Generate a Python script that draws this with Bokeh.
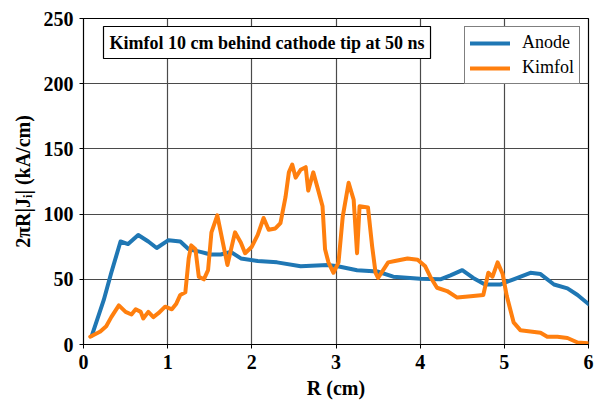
from bokeh.plotting import figure
from bokeh.models import Label, Legend, LegendItem, FixedTicker, Range1d
from bokeh.embed import file_html
from bokeh.resources import INLINE

anode_r = [0.1, 0.24, 0.33, 0.44, 0.53, 0.65, 0.77, 0.87, 1.01, 1.15, 1.25, 1.39, 1.51,
           1.63, 1.75, 1.87, 2.07, 2.3, 2.58, 2.9, 3.02, 3.25, 3.49, 3.68, 4.0, 4.24,
           4.36, 4.5, 4.63, 4.77, 4.95, 5.11, 5.31, 5.43, 5.59, 5.75, 5.87, 6.0]
anode_j = [7, 34, 55, 79, 77, 84, 79, 74, 80, 79, 73, 71, 69,
           69, 71, 66, 64, 63, 60, 61, 60, 57, 56, 52, 50.5, 50,
           53, 57, 51, 46, 46, 50, 55, 54, 46, 43, 38, 31]

kimfol_r = [0.08, 0.2, 0.27, 0.33, 0.42, 0.5, 0.57, 0.62, 0.68, 0.71, 0.77, 0.83, 0.89,
            0.97, 1.05, 1.1, 1.15, 1.21, 1.25, 1.28, 1.33, 1.37, 1.43, 1.48, 1.52, 1.59,
            1.71, 1.8, 1.87, 1.92, 2.0, 2.07, 2.14, 2.2, 2.28, 2.34, 2.4, 2.44, 2.48,
            2.52, 2.58, 2.64, 2.67, 2.73, 2.79, 2.84, 2.87, 2.91, 2.97, 3.03, 3.08, 3.15,
            3.21, 3.25, 3.28, 3.38, 3.43, 3.47, 3.5, 3.56, 3.62, 3.7, 3.85, 3.97, 4.06,
            4.12, 4.2, 4.32, 4.44, 4.6, 4.75, 4.81, 4.86, 4.92, 4.98, 5.03, 5.11, 5.19,
            5.31, 5.43, 5.51, 5.63, 5.75, 5.87, 5.99]
kimfol_j = [6, 10, 14, 21, 30, 25, 23, 27, 25, 20, 25, 21, 24,
            29, 27, 31, 38, 40, 66, 76, 73, 52, 50, 57, 86, 99,
            61, 86, 78, 70, 75, 84, 97, 88, 89, 93, 113, 132, 138,
            128, 134, 136, 118, 132, 118, 106, 73, 63, 55, 63, 98, 124,
            111, 70, 106, 105, 75, 55, 51, 57, 63, 64, 66, 65, 60,
            52, 43.5, 41, 36, 37, 38, 55, 52, 63, 54, 37, 17, 11,
            10, 9, 6, 6, 5, 1.5, 1]

x_ticks = [0, 1, 2, 3, 4, 5, 6]
y_ticks = [0, 50, 100, 150, 200, 250]

title_text = "Kimfol 10 cm behind cathode tip at 50 ns"
x_label = "R (cm)"
y_label = "2πR|Jᵢ| (kA/cm)"

FONT = "Liberation Serif"

p = figure(width=597, height=401, output_backend="svg", toolbar_location=None,
           x_range=Range1d(0, 6), y_range=Range1d(0, 250),
           min_border_left=83, min_border_right=9, min_border_top=18, min_border_bottom=56)

p.outline_line_color = "black"
p.outline_line_width = 1.2

for ax in (p.xaxis, p.yaxis):
    ax.major_label_text_font = FONT
    ax.major_label_text_font_style = "bold"
    ax.major_label_text_font_size = "20px"
    ax.major_label_text_color = "black"
    ax.axis_label_text_font = FONT
    ax.axis_label_text_font_style = "bold"
    ax.axis_label_text_font_size = "20px"
    ax.axis_label_text_color = "black"
    ax.axis_line_color = "black"
    ax.major_tick_line_color = "black"
    ax.major_tick_out = 4
    ax.major_tick_in = 0
    ax.minor_tick_line_color = None

p.xaxis.ticker = FixedTicker(ticks=x_ticks)
p.yaxis.ticker = FixedTicker(ticks=y_ticks)
p.xaxis.axis_label = x_label
p.yaxis.axis_label = y_label
p.xaxis.major_label_standoff = 6
p.yaxis.major_label_standoff = 6
p.xaxis.axis_label_standoff = 5
p.yaxis.axis_label_standoff = 7

p.xgrid.ticker = FixedTicker(ticks=x_ticks)
p.ygrid.ticker = FixedTicker(ticks=y_ticks)
for g in (p.xgrid, p.ygrid):
    g.grid_line_color = "#4a4a4a"
    g.grid_line_width = 1.2

r1 = p.line(anode_r, anode_j, line_color="#1f77b4", line_width=4, line_join="round", line_cap="round")
r2 = p.line(kimfol_r, kimfol_j, line_color="#ff7f0e", line_width=4, line_join="round", line_cap="round")

legend = Legend(items=[LegendItem(label="Anode", renderers=[r1]),
                       LegendItem(label="Kimfol", renderers=[r2])],
                location="top_right")
legend.label_text_font = FONT
legend.label_text_font_size = "18px"
legend.label_text_color = "black"
legend.border_line_color = "black"
legend.border_line_width = 1.2
legend.background_fill_alpha = 1.0
legend.glyph_width = 40
legend.glyph_height = 20
legend.label_standoff = 12
legend.spacing = 4
legend.padding = 5
legend.margin = 8
legend.label_height = 20
p.add_layout(legend)

lbl = Label(x=20, y=286, x_units="screen", y_units="screen", text=title_text,
            text_font=FONT, text_font_style="bold", text_font_size="18px",
            text_color="black", border_line_color="black", border_line_width=1.2,
            background_fill_color="white", padding=6)
p.add_layout(lbl)

open("out.html", "w").write(file_html(p, INLINE))
